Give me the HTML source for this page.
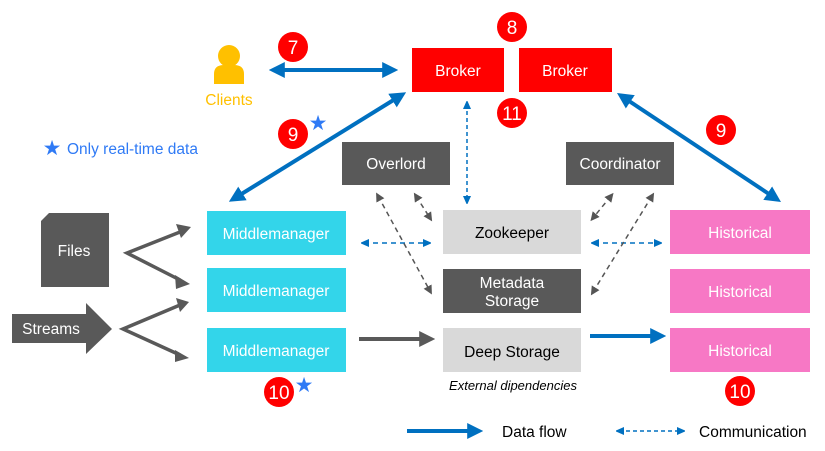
<!DOCTYPE html>
<html><head><meta charset="utf-8"><style>
html,body{margin:0;padding:0;background:#fff;}
svg{display:block;font-family:"Liberation Sans",Arial,sans-serif;}
</style></head><body>
<svg width="825" height="451" viewBox="0 0 825 451" xmlns="http://www.w3.org/2000/svg">
<defs>
<marker id="bh" markerWidth="4" markerHeight="4" refX="2.2" refY="2" orient="auto-start-reverse" markerUnits="strokeWidth"><path d="M0,0 L4,2 L0,4 z" fill="#0070c0"/></marker>
<marker id="bd" markerWidth="8" markerHeight="8" refX="5" refY="4" orient="auto-start-reverse" markerUnits="userSpaceOnUse"><path d="M0,0 L9,4 L0,8 z" fill="#0070c0"/></marker>
<marker id="gd" markerWidth="9" markerHeight="9" refX="5" refY="4.5" orient="auto-start-reverse" markerUnits="userSpaceOnUse"><path d="M0,0 L9,4.5 L0,9 z" fill="#555"/></marker>
<marker id="gh" markerWidth="4" markerHeight="4" refX="2.2" refY="2" orient="auto-start-reverse" markerUnits="strokeWidth"><path d="M0,0 L4,2 L0,4 z" fill="#595959"/></marker>
</defs>

<!-- Clients -->
<circle cx="229" cy="56" r="11" fill="#ffc000"/>
<path d="M214,84 L214,74 Q214,65 224,65 L234,65 Q244,65 244,74 L244,84 z" fill="#ffc000"/>
<text x="229" y="105" font-size="15.5" fill="#ffc000" text-anchor="middle">Clients</text>

<line x1="276" y1="70" x2="391" y2="70" stroke="#0070c0" stroke-width="4" marker-start="url(#bh)" marker-end="url(#bh)"/>

<!-- Brokers -->
<rect x="412" y="48" width="92" height="44" fill="#ff0000"/>
<text x="458" y="76" font-size="15.5" fill="#fff" text-anchor="middle">Broker</text>
<rect x="519" y="48" width="93" height="44" fill="#ff0000"/>
<text x="565" y="76" font-size="15.5" fill="#fff" text-anchor="middle">Broker</text>

<line x1="467" y1="104" x2="467" y2="201" stroke="#0070c0" stroke-width="1.5" stroke-dasharray="4,3" marker-start="url(#bd)" marker-end="url(#bd)"/>

<line x1="400" y1="96" x2="235" y2="198" stroke="#0070c0" stroke-width="4" marker-start="url(#bh)" marker-end="url(#bh)"/>
<line x1="623" y1="97" x2="775" y2="198" stroke="#0070c0" stroke-width="4" marker-start="url(#bh)" marker-end="url(#bh)"/>

<!-- Only real-time -->
<text x="52" y="155" font-size="21" fill="#2f7af5" text-anchor="middle">★</text>
<text x="67" y="154" font-size="15.5" fill="#2f7af5">Only real-time data</text>

<!-- Overlord / Coordinator -->
<rect x="342" y="142" width="108" height="43" fill="#595959"/>
<text x="396" y="169" font-size="15.5" fill="#fff" text-anchor="middle">Overlord</text>
<rect x="566" y="142" width="108" height="43" fill="#595959"/>
<text x="620" y="169" font-size="15.5" fill="#fff" text-anchor="middle">Coordinator</text>

<!-- center column -->
<rect x="443" y="210" width="138" height="44" fill="#d9d9d9"/>
<text x="512" y="238" font-size="15.5" fill="#000" text-anchor="middle">Zookeeper</text>
<rect x="443" y="269" width="138" height="44" fill="#595959"/>
<text x="512" y="288" font-size="15.5" fill="#fff" text-anchor="middle">Metadata</text>
<text x="512" y="306" font-size="15.5" fill="#fff" text-anchor="middle">Storage</text>
<rect x="443" y="328" width="138" height="44" fill="#d9d9d9"/>
<text x="512" y="357" font-size="15.5" fill="#000" text-anchor="middle">Deep Storage</text>
<text x="513" y="390" font-size="13" font-style="italic" fill="#000" text-anchor="middle">External dipendencies</text>

<!-- Middlemanagers -->
<rect x="207" y="211" width="139" height="44" fill="#33d5ea"/>
<text x="276" y="239" font-size="15.5" fill="#fff" text-anchor="middle">Middlemanager</text>
<rect x="207" y="268" width="139" height="44" fill="#33d5ea"/>
<text x="276" y="296" font-size="15.5" fill="#fff" text-anchor="middle">Middlemanager</text>
<rect x="207" y="328" width="139" height="44" fill="#33d5ea"/>
<text x="276" y="356" font-size="15.5" fill="#fff" text-anchor="middle">Middlemanager</text>

<!-- Historical -->
<rect x="670" y="210" width="140" height="44" fill="#f778c5"/>
<text x="740" y="238" font-size="15.5" fill="#fff" text-anchor="middle">Historical</text>
<rect x="670" y="269" width="140" height="44" fill="#f778c5"/>
<text x="740" y="297" font-size="15.5" fill="#fff" text-anchor="middle">Historical</text>
<rect x="670" y="328" width="140" height="44" fill="#f778c5"/>
<text x="740" y="356" font-size="15.5" fill="#fff" text-anchor="middle">Historical</text>

<!-- dashed comms -->
<line x1="364" y1="243" x2="428" y2="243" stroke="#0070c0" stroke-width="1.5" stroke-dasharray="5,4" marker-start="url(#bd)" marker-end="url(#bd)"/>
<line x1="594" y1="243" x2="659" y2="243" stroke="#0070c0" stroke-width="1.5" stroke-dasharray="5,4" marker-start="url(#bd)" marker-end="url(#bd)"/>
<line x1="378" y1="196" x2="430" y2="291" stroke="#555" stroke-width="1.5" stroke-dasharray="5,4" marker-start="url(#gd)" marker-end="url(#gd)"/>
<line x1="416" y1="196" x2="430" y2="218" stroke="#555" stroke-width="1.5" stroke-dasharray="5,4" marker-start="url(#gd)" marker-end="url(#gd)"/>
<line x1="611" y1="196" x2="593" y2="218" stroke="#555" stroke-width="1.5" stroke-dasharray="5,4" marker-start="url(#gd)" marker-end="url(#gd)"/>
<line x1="652" y1="196" x2="593" y2="292" stroke="#555" stroke-width="1.5" stroke-dasharray="5,4" marker-start="url(#gd)" marker-end="url(#gd)"/>

<!-- Files -->
<path d="M49,213 L109,213 L109,287 L41,287 L41,221 z" fill="#595959"/>
<text x="74" y="256" font-size="15.5" fill="#fff" text-anchor="middle">Files</text>
<!-- Streams -->
<path d="M12,314 L86,314 L86,303 L112,329 L86,354 L86,343 L12,343 z" fill="#595959"/>
<text x="51" y="334" font-size="15.5" fill="#fff" text-anchor="middle">Streams</text>

<!-- gray fan arrows -->
<polyline points="180,232 127,253 180,280" fill="none" stroke="#595959" stroke-width="3.5"/>
<path d="M176,224 L191,227 L181,238 z" fill="#595959"/>
<path d="M175,275 L190,284 L176,289 z" fill="#595959"/>
<polyline points="180,305 123,329 180,355" fill="none" stroke="#595959" stroke-width="3.5"/>
<path d="M176,298 L189,302 L180,312 z" fill="#595959"/>
<path d="M175,350 L189,358 L175,362 z" fill="#595959"/>

<line x1="359" y1="339" x2="428" y2="339" stroke="#595959" stroke-width="4" marker-end="url(#gh)"/>
<line x1="590" y1="336" x2="659" y2="336" stroke="#0070c0" stroke-width="4" marker-end="url(#bh)"/>

<!-- Legend -->
<line x1="407" y1="431" x2="476" y2="431" stroke="#0070c0" stroke-width="4" marker-end="url(#bh)"/>
<text x="502" y="437" font-size="15.5" fill="#000">Data flow</text>
<line x1="619" y1="431" x2="682" y2="431" stroke="#0070c0" stroke-width="1.5" stroke-dasharray="4,3" marker-start="url(#bd)" marker-end="url(#bd)"/>
<text x="699" y="437" font-size="15.5" fill="#000">Communication</text>

<!-- number circles -->
<g font-size="19" fill="#fff" text-anchor="middle">
<circle cx="293" cy="47" r="15" fill="#f00"/><text x="293" y="54">7</text>
<circle cx="512" cy="27" r="15" fill="#f00"/><text x="512" y="34">8</text>
<circle cx="512" cy="113" r="15" fill="#f00"/><text x="512" y="120">11</text>
<circle cx="293" cy="134" r="15" fill="#f00"/><text x="293" y="141">9</text>
<circle cx="721" cy="130" r="15" fill="#f00"/><text x="721" y="137">9</text>
<circle cx="279" cy="392" r="15" fill="#f00"/><text x="279" y="399">10</text>
<circle cx="740" cy="391" r="15" fill="#f00"/><text x="740" y="398">10</text>
</g>
<g font-size="21" fill="#2f7af5" text-anchor="middle">
<text x="318" y="130">★</text>
<text x="304" y="392">★</text>
</g>
</svg>
</body></html>
